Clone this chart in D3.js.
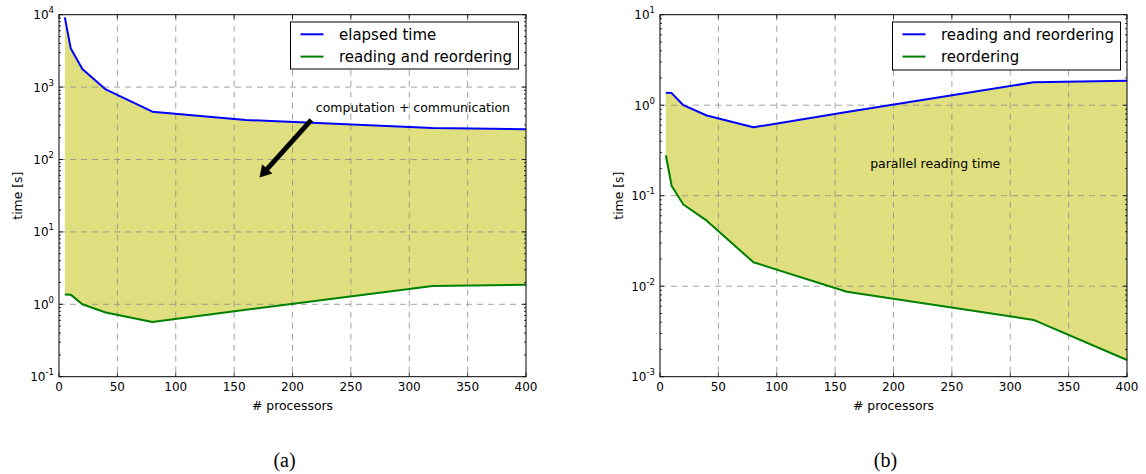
<!DOCTYPE html>
<html>
<head>
<meta charset="utf-8">
<script src="https://cdn.jsdelivr.net/npm/d3@7"></script>
<style>
  html, body { margin: 0; padding: 0; background: #fff; }
  svg { display: block; }
  text { font-family: "DejaVu Sans", sans-serif; fill: #000; }
</style>
</head>
<body>
<svg id="chart" width="1146" height="474"></svg>
<script>
// ---------------- data ----------------
const procs = [5, 10, 20, 40, 80, 160, 320, 400];
const elapsedTime = [9200, 3450, 1780, 930, 457, 351, 272, 261];
const readingAndReordering = [1.37, 1.36, 1.0, 0.77, 0.57, 0.84, 1.79, 1.86];
const reorderingTime = [0.28, 0.128, 0.080, 0.053, 0.0184, 0.0087, 0.00424, 0.00153];

const xTicks = [0, 50, 100, 150, 200, 250, 300, 350, 400];
const leftDecades = [-1, 0, 1, 2, 3, 4];
const rightDecades = [-3, -2, -1, 0, 1];

const leftLegend = ["elapsed time", "reading and reordering"];
const rightLegend = ["reading and reordering", "reordering"];
const xLabel = "# processors";
const yLabel = "time [s]";
const captions = ["(a)", "(b)"];
const leftAnnotation = { text: "computation + communication", textX: 220, textY: 450, tailX: 216, tailY: 350, headX: 172, headY: 57 };
const rightAnnotation = { text: "parallel reading time", x: 180, y: 0.2 };

const BLUE = "#0000ff", GREEN = "#008000", FILL = "#dfdf7f";

const svg = d3.select("#chart");

function panel(cfg) {
  const g = svg.append("g");
  const x = d3.scaleLinear().domain([0, 400]).range([cfg.x0, cfg.x1]);
  const dmin = d3.min(cfg.decades), dmax = d3.max(cfg.decades);
  const y = d3.scaleLog().domain([Math.pow(10, dmin), Math.pow(10, dmax)]).range([cfg.yb, cfg.yt]);

  const upper = cfg.upper, lower = cfg.lower;
  const rows = procs.map((p, i) => ({ p, u: upper[i], l: lower[i] }));

  // fill
  g.append("path").datum(rows)
    .attr("d", d3.area().x(d => x(d.p)).y0(d => y(d.l)).y1(d => y(d.u)))
    .attr("fill", FILL).attr("stroke", "none");

  // grid
  const grid = g.append("g").attr("stroke", "#8c8c8c").attr("stroke-width", 0.8).attr("stroke-dasharray", "6,5");
  xTicks.slice(1, -1).forEach(t => {
    grid.append("line").attr("x1", x(t)).attr("x2", x(t)).attr("y1", cfg.yt).attr("y2", cfg.yb);
  });
  cfg.decades.slice(1, -1).forEach(d => {
    const yy = y(Math.pow(10, d));
    grid.append("line").attr("x1", cfg.x0).attr("x2", cfg.x1).attr("y1", yy).attr("y2", yy);
  });

  // lines
  g.append("path").datum(rows)
    .attr("d", d3.line().x(d => x(d.p)).y(d => y(d.u)))
    .attr("fill", "none").attr("stroke", BLUE).attr("stroke-width", 2).attr("stroke-linejoin", "round");
  g.append("path").datum(rows)
    .attr("d", d3.line().x(d => x(d.p)).y(d => y(d.l)))
    .attr("fill", "none").attr("stroke", GREEN).attr("stroke-width", 2).attr("stroke-linejoin", "round");

  // ticks (inside, all four sides)
  const tk = g.append("g").attr("stroke", "#000").attr("stroke-width", 0.8);
  xTicks.forEach(t => {
    const xx = x(t);
    tk.append("line").attr("x1", xx).attr("x2", xx).attr("y1", cfg.yb).attr("y2", cfg.yb - 4);
    tk.append("line").attr("x1", xx).attr("x2", xx).attr("y1", cfg.yt).attr("y2", cfg.yt + 4);
  });
  cfg.decades.forEach((d, i) => {
    const yy = y(Math.pow(10, d));
    tk.append("line").attr("x1", cfg.x0).attr("x2", cfg.x0 + 4).attr("y1", yy).attr("y2", yy);
    tk.append("line").attr("x1", cfg.x1).attr("x2", cfg.x1 - 4).attr("y1", yy).attr("y2", yy);
    if (i < cfg.decades.length - 1) {
      for (let m = 2; m <= 9; m++) {
        const ym = y(m * Math.pow(10, d));
        tk.append("line").attr("x1", cfg.x0).attr("x2", cfg.x0 + 2).attr("y1", ym).attr("y2", ym);
        tk.append("line").attr("x1", cfg.x1).attr("x2", cfg.x1 - 2).attr("y1", ym).attr("y2", ym);
      }
    }
  });

  // frame
  g.append("rect").attr("x", cfg.x0).attr("y", cfg.yt)
    .attr("width", cfg.x1 - cfg.x0).attr("height", cfg.yb - cfg.yt)
    .attr("fill", "none").attr("stroke", "#000").attr("stroke-width", 1);

  // x tick labels
  xTicks.forEach(t => {
    g.append("text").attr("x", x(t)).attr("y", cfg.yb + 14.5)
      .attr("text-anchor", "middle").attr("font-size", 12).text(t);
  });
  // y tick labels 10^n
  cfg.decades.forEach(d => {
    const yy = y(Math.pow(10, d));
    const t = g.append("text").attr("x", cfg.x0 - 5).attr("y", yy + 4.5)
      .attr("text-anchor", "end").attr("font-size", 12);
    t.append("tspan").text("10");
    t.append("tspan").attr("dy", -6).attr("font-size", 8.5).text(d);
  });

  // axis labels
  g.append("text").attr("x", (cfg.x0 + cfg.x1) / 2).attr("y", cfg.yb + 33)
    .attr("text-anchor", "middle").attr("font-size", 12.4).text(xLabel);
  g.append("text")
    .attr("transform", `translate(${cfg.x0 - 37},${(cfg.yt + cfg.yb) / 2}) rotate(-90)`)
    .attr("text-anchor", "middle").attr("font-size", 12.4).text(yLabel);

  // legend
  const lg = g.append("g");
  lg.append("rect").attr("x", cfg.leg.x).attr("y", cfg.leg.y).attr("width", cfg.leg.w).attr("height", cfg.leg.h)
    .attr("fill", "#fff").attr("stroke", "#000").attr("stroke-width", 1);
  cfg.legendLabels.forEach((lab, i) => {
    const ly = cfg.leg.y + 12.3 + i * 22.3;
    lg.append("line").attr("x1", cfg.leg.x + 10).attr("x2", cfg.leg.x + 33).attr("y1", ly).attr("y2", ly)
      .attr("stroke", i === 0 ? BLUE : GREEN).attr("stroke-width", 2);
    lg.append("text").attr("x", cfg.leg.x + 48.5).attr("y", ly + 5.2).attr("font-size", 15).text(lab);
  });

  // caption
  svg.append("text").attr("x", (cfg.x0 + cfg.x1) / 2 - 8).attr("y", 467)
    .attr("text-anchor", "middle").attr("font-size", 20)
    .style("font-family", "'Liberation Serif', 'Times New Roman', serif").text(cfg.caption);

  return { g, x, y };
}

const L = panel({
  x0: 59, x1: 526, yt: 14.7, yb: 376.7, decades: leftDecades,
  upper: elapsedTime, lower: readingAndReordering,
  legendLabels: leftLegend, leg: { x: 290.5, y: 22, w: 228, h: 47 }, caption: captions[0]
});
const R = panel({
  x0: 660, x1: 1127, yt: 14.7, yb: 376.7, decades: rightDecades,
  upper: readingAndReordering, lower: reorderingTime,
  legendLabels: rightLegend, leg: { x: 892.5, y: 22, w: 228, h: 48 }, caption: captions[1]
});

// left annotation with arrow
{
  const a = leftAnnotation;
  L.g.append("text").attr("x", L.x(a.textX)).attr("y", L.y(a.textY)).attr("font-size", 12.5).text(a.text);
  const x1 = L.x(a.tailX), y1 = L.y(a.tailY), x2 = L.x(a.headX), y2 = L.y(a.headY);
  const ang = Math.atan2(y2 - y1, x2 - x1);
  const ux = Math.cos(ang), uy = Math.sin(ang), px = -uy, py = ux;
  const headLen = 11, headW = 13, shaftW = 4.5;
  const bx = x2 - ux * headLen, by = y2 - uy * headLen;
  const pts = [
    [x1 + px * shaftW / 2, y1 + py * shaftW / 2],
    [bx + px * shaftW / 2, by + py * shaftW / 2],
    [bx + px * headW / 2, by + py * headW / 2],
    [x2, y2],
    [bx - px * headW / 2, by - py * headW / 2],
    [bx - px * shaftW / 2, by - py * shaftW / 2],
    [x1 - px * shaftW / 2, y1 - py * shaftW / 2]
  ];
  L.g.append("polygon").attr("points", pts.map(p => p.join(",")).join(" "))
    .attr("fill", "#000").attr("stroke", "#000").attr("stroke-width", 0.5);
}
// right annotation
R.g.append("text").attr("x", R.x(rightAnnotation.x)).attr("y", R.y(rightAnnotation.y))
  .attr("font-size", 12.5).text(rightAnnotation.text);
</script>
</body>
</html>
